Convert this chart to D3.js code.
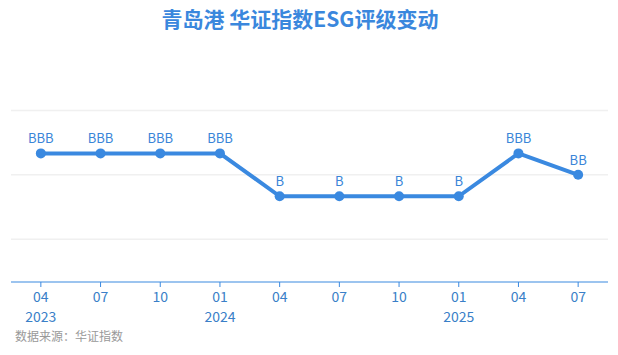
<!DOCTYPE html>
<html>
<head>
<meta charset="utf-8">
<script src="https://cdn.jsdelivr.net/npm/d3@7"></script>
<style>
  body { margin: 0; background: #fff; }
  text { font-family: "Microsoft YaHei", "Noto Sans CJK SC", sans-serif; }
</style>
</head>
<body>
<script>
// rating scale, low to high
var ratingLevels = ["C", "CC", "CCC", "B", "BB", "BBB", "A", "AA", "AAA"];
var months = ["04", "07", "10", "01", "04", "07", "10", "01", "04", "07"];
var years = ["2023", "", "", "2024", "", "", "", "2025", "", ""];
var ratings = ["BBB", "BBB", "BBB", "BBB", "B", "B", "B", "B", "BBB", "BB"];
var gridTicks = [2, 5, 8];

var blue = "#3a89e0";
var svg = d3.select("body").append("svg")
  .attr("width", 618)
  .attr("height", 355);

var x = d3.scaleBand()
  .domain(d3.range(months.length))
  .range([11, 608]);

var y = d3.scaleLinear()
  .domain([0, 8])
  .range([282, 110.5]);

function score(r) { return ratingLevels.indexOf(r) + 1; }
function cx(i) { return x(i) + x.bandwidth() / 2; }

svg.append("text")
  .attr("x", 300)
  .attr("y", 27)
  .attr("text-anchor", "middle")
  .attr("font-size", 21)
  .attr("font-weight", "bold")
  .attr("fill", "#3a87dd")
  .text("青岛港 华证指数ESG评级变动");

svg.append("g").selectAll("line")
  .data(gridTicks)
  .enter()
  .append("line")
    .attr("x1", 11)
    .attr("x2", 608)
    .attr("y1", function(d) { return y(d); })
    .attr("y2", function(d) { return y(d); })
    .attr("stroke", "#f0f0f0")
    .attr("stroke-width", 1.5);

// x axis
var axis = svg.append("g");
axis.append("line")
  .attr("x1", 11).attr("x2", 608)
  .attr("y1", y(0)).attr("y2", y(0))
  .attr("stroke", blue)
  .attr("stroke-width", 1.2);
axis.selectAll("line.tick")
  .data(months)
  .enter()
  .append("line")
    .attr("class", "tick")
    .attr("x1", function(d, i) { return cx(i); })
    .attr("x2", function(d, i) { return cx(i); })
    .attr("y1", y(0))
    .attr("y2", y(0) + 5)
    .attr("stroke", blue);
axis.selectAll("text.month")
  .data(months)
  .enter()
  .append("text")
    .attr("class", "month")
    .attr("x", function(d, i) { return cx(i); })
    .attr("y", 302)
    .attr("text-anchor", "middle")
    .attr("font-size", 14)
    .attr("fill", "#3a7fc8")
    .text(function(d) { return d; });
axis.selectAll("text.year")
  .data(years)
  .enter()
  .append("text")
    .attr("class", "year")
    .attr("x", function(d, i) { return cx(i); })
    .attr("y", 322)
    .attr("text-anchor", "middle")
    .attr("font-size", 14)
    .attr("fill", "#3a7fc8")
    .text(function(d) { return d; });

var line = d3.line()
  .x(function(d, i) { return cx(i); })
  .y(function(d) { return y(score(d)); });

svg.append("path")
  .datum(ratings)
  .attr("d", line)
  .attr("fill", "none")
  .attr("stroke", blue)
  .attr("stroke-width", 4)
  .attr("stroke-linejoin", "round");

svg.append("g").selectAll("circle")
  .data(ratings)
  .enter()
  .append("circle")
    .attr("cx", function(d, i) { return cx(i); })
    .attr("cy", function(d) { return y(score(d)); })
    .attr("r", 5)
    .attr("fill", blue);

svg.append("g").selectAll("text")
  .data(ratings)
  .enter()
  .append("text")
    .attr("x", function(d, i) { return cx(i); })
    .attr("y", function(d) { return y(score(d)) - 10; })
    .attr("text-anchor", "middle")
    .attr("font-size", 13)
    .attr("fill", "#3a85d8")
    .text(function(d) { return d; });

svg.append("text")
  .attr("x", 15)
  .attr("y", 341)
  .attr("font-size", 12)
  .attr("fill", "#999")
  .text("数据来源：华证指数");
</script>
</body>
</html>
